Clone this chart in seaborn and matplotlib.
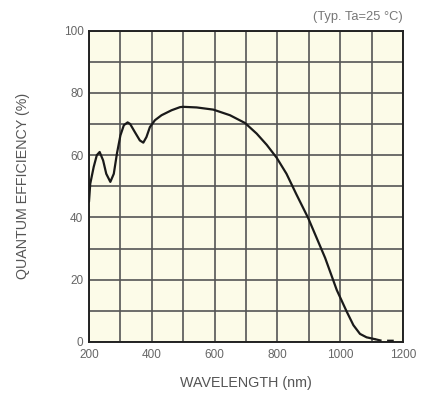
import numpy as np
import pandas as pd
import seaborn as sns
import matplotlib.pyplot as plt

# Quantum efficiency curve
wavelength = [200, 204, 215, 225, 234, 245, 255, 268, 279, 289, 300, 311,
              323, 331, 346, 362, 373, 383, 394, 410, 431, 463, 490, 500,
              543, 596, 649, 697, 734, 766, 798, 829, 860, 898, 952,
              989, 1021, 1042, 1063, 1084, 1111]
efficiency = [45.0, 50.8, 56.2, 60.0, 61.0, 58.3, 54.0, 51.4, 54.0, 60.5, 66.3, 69.6,
              70.5, 70.0, 67.4, 64.7, 64.0, 65.8, 69.0, 71.2, 72.8, 74.4, 75.4, 75.5,
              75.3, 74.6, 72.8, 70.3, 66.9, 63.3, 59.1, 54.0, 47.5, 39.8, 27.0,
              16.7, 9.7, 5.4, 2.6, 1.5, 0.9]
# dashed tail beyond the solid curve
tail_wavelength = [1111, 1132, 1185]
tail_efficiency = [0.9, 0.4, 0.4]

x_ticks = [200, 400, 600, 800, 1000, 1200]
y_ticks = [0, 20, 40, 60, 80, 100]

sns.set_style("white")
plt.rcParams["font.family"] = ["Liberation Sans", "DejaVu Sans"]

fig = plt.figure(figsize=(4.27, 4.03), dpi=100)
ax = fig.add_axes([0.2084, 0.1514, 0.7354, 0.7729])
ax.set_facecolor("#fcfbe8")

df = pd.DataFrame({"wavelength": wavelength, "efficiency": efficiency})
sns.lineplot(data=df, x="wavelength", y="efficiency", ax=ax,
             color="#1a1a1a", linewidth=1.6, zorder=3)
tail = pd.DataFrame({"wavelength": tail_wavelength, "efficiency": tail_efficiency})
sns.lineplot(data=tail, x="wavelength", y="efficiency", ax=ax,
             color="#1a1a1a", linewidth=1.6, linestyle=(0, (3, 2.5)), zorder=3)

ax.set_xlim(200, 1200)
ax.set_ylim(0, 100)
ax.set_xticks(np.arange(200, 1201, 100), minor=True)
ax.set_yticks(np.arange(0, 101, 10), minor=True)
ax.set_xticks(x_ticks)
ax.set_yticks(y_ticks)
ax.grid(True, which="both", color="#555555", linewidth=1.2)
ax.tick_params(which="both", length=0, colors="#666666", labelsize=8.5)
ax.tick_params(axis="x", pad=5)
ax.tick_params(axis="y", pad=4)
for s in ax.spines.values():
    s.set_color("#222222")
    s.set_linewidth(1.4)

ax.set_xlabel("WAVELENGTH (nm)", color="#555555", fontsize=10.3, labelpad=11)
ax.set_ylabel("QUANTUM EFFICIENCY (%)", color="#555555", fontsize=10.3, labelpad=24)
ax.text(1.0, 1.025, "(Typ. Ta=25 \u00b0C)", transform=ax.transAxes,
        ha="right", va="bottom", color="#777777", fontsize=9.3)

fig.savefig("out.png", dpi=100)
